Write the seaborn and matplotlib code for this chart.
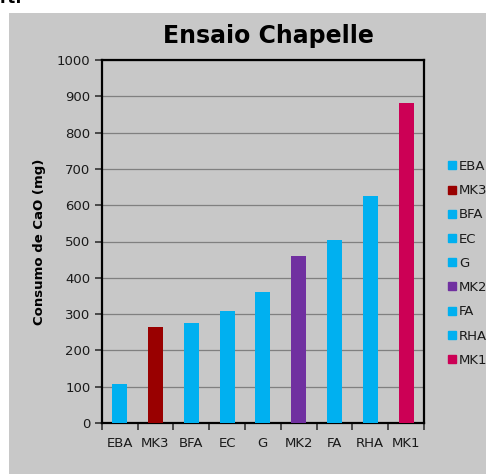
import matplotlib
matplotlib.use("Agg")
import matplotlib.pyplot as plt
import seaborn as sns
import pandas as pd
from matplotlib.patches import Rectangle
from matplotlib.lines import Line2D

categories = ["EBA", "MK3", "BFA", "EC", "G", "MK2", "FA", "RHA", "MK1"]
values = [107, 265, 276, 309, 362, 461, 503, 625, 882]
colors = ["#00B0F0", "#990000", "#00B0F0", "#00B0F0", "#00B0F0",
          "#7030A0", "#00B0F0", "#00B0F0", "#CC0055"]
y_ticks = [0, 100, 200, 300, 400, 500, 600, 700, 800, 900, 1000]

df = pd.DataFrame({"cat": categories, "val": values})
palette = dict(zip(categories, colors))

sns.set_style("white")
plt.rcParams["font.family"] = ["DejaVu Sans"]
plt.rcParams["text.color"] = "black"

W, H = 486, 474
fig = plt.figure(figsize=(W / 100, H / 100), dpi=100)
fig.patch.set_facecolor("white")
bg = "#C8C8C8"
fig.patches.append(Rectangle((9 / W, 0), 1 - 9 / W, 1 - 13 / H,
                             transform=fig.transFigure, facecolor=bg,
                             edgecolor="none", zorder=-10))
fig.text(0 / W, 1 - 3 / H, "rt.", fontsize=12, fontweight="bold",
         va="baseline", ha="left", color="black")

ax = fig.add_axes([101.7 / W, 51 / H, (424 - 101.7) / W, (423 - 60) / H])
ax.set_facecolor(bg)

sns.barplot(data=df, x="cat", y="val", hue="cat", palette=palette,
            order=categories, hue_order=categories, width=0.42,
            saturation=1, legend=False, ax=ax, zorder=3,
            edgecolor="none", linewidth=0)

ax.set_ylim(0, 1000)
ax.set_xlim(-0.5, len(categories) - 0.5)
ax.set_yticks(y_ticks)
ax.set_yticklabels([str(t) for t in y_ticks], fontsize=9.5, color="#1a1a1a")
ax.yaxis.grid(True, color="#808080", linewidth=0.9, zorder=0)
ax.set_axisbelow(True)

ax.set_xticks(range(len(categories)))
ax.set_xticklabels(categories, fontsize=9.5, color="#1a1a1a")
ax.set_xticks([i - 0.5 for i in range(len(categories) + 1)], minor=True)
ax.tick_params(axis="x", which="major", length=0, pad=10)
ax.tick_params(axis="x", which="minor", length=5, width=1.2, color="#333333",
               direction="out", bottom=True)
ax.tick_params(axis="y", which="major", length=5, width=1.2, color="#333333",
               direction="out", left=True, pad=3)

for s in ax.spines.values():
    s.set_color("black")
    s.set_linewidth(1.6)

ax.set_xlabel("")
ax.set_ylabel("Consumo de CaO (mg)", fontsize=9.5, fontweight="bold",
              labelpad=8, color="black")

fig.text(268 / W, 1 - 36 / H, "Ensaio Chapelle", fontsize=17,
         fontweight="bold", ha="center", va="center", color="black")

handles = [Line2D([0], [0], marker="s", linestyle="none", markersize=6,
                  markerfacecolor=c, markeredgecolor=c) for c in colors]
fig.legend(handles, categories, loc="upper left",
           bbox_to_anchor=(448 / W, 1 - 160 / H), frameon=False,
           fontsize=9.5, handlelength=0.6, handletextpad=0.25,
           labelspacing=0.85, borderaxespad=0, borderpad=0,
           labelcolor="#1a1a1a")

fig.savefig("out.png", dpi=100)
